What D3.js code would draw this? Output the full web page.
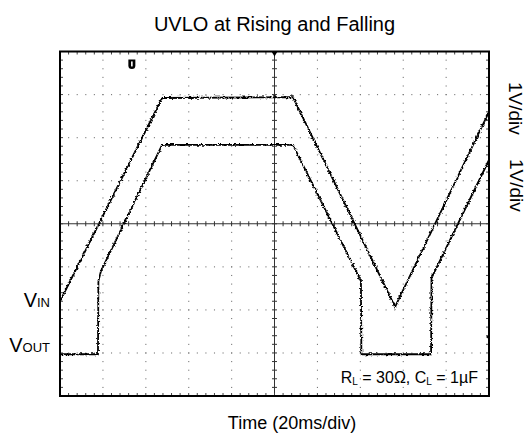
<!DOCTYPE html>
<html lang="en">
<head>
<meta charset="UTF-8">
<title>UVLO at Rising and Falling</title>
<script src="https://cdn.jsdelivr.net/npm/d3@7"></script>
<style>
  body { margin: 0; background: #fff; }
  svg text { font-family: "Liberation Sans", Arial, sans-serif; fill: #000; }
</style>
</head>
<body>
<div id="chart"></div>
<script>
// scope capture: 20 ms/div, 1 V/div on both channels
const vinTime  = [0, 47.6, 108.6, 156.2, 200];
const vinVolts = [0.0, 4.72, 4.74, -0.13, 4.40];
const voutTime  = [0, 17.7, 17.9, 19.1, 47.6, 108.6, 140.3, 140.5, 173.0, 173.2, 200];
const voutVolts = [-0.03, -0.03, 1.67, 1.90, 4.83, 4.83, 1.67, -0.03, -0.03, 1.74, 4.48];
// ground marker of each channel, in divisions from the bottom of the screen
const vinOffsetDiv = 2.2;
const voutOffsetDiv = 1.0;
const timeDomain = [0, 200];   // 10 divisions of 20 ms
const divDomain = [0, 8];      // 8 vertical divisions
const minorsPerDiv = 5;

const width = 530, height = 437;
const plot = { left: 60, right: 489, top: 51.5, bottom: 396 };

const svg = d3.select("#chart").append("svg")
    .attr("width", width)
    .attr("height", height);

const x = d3.scaleLinear().domain(timeDomain).range([plot.left, plot.right]);
const y = d3.scaleLinear().domain(divDomain).range([plot.bottom, plot.top]);

const defs = svg.append("defs");
defs.append("clipPath").attr("id", "screen")
  .append("rect")
    .attr("x", plot.left).attr("y", plot.top)
    .attr("width", plot.right - plot.left).attr("height", plot.bottom - plot.top);

// rough scope trace look
const f = defs.append("filter").attr("id", "jitter")
    .attr("filterUnits", "userSpaceOnUse")
    .attr("x", 40).attr("y", 40).attr("width", 470).attr("height", 380);
f.append("feTurbulence").attr("type", "fractalNoise")
    .attr("baseFrequency", "0.35 0.6").attr("numOctaves", 2).attr("seed", 4).attr("result", "n");
f.append("feDisplacementMap").attr("in", "SourceGraphic").attr("in2", "n")
    .attr("scale", 3.5).attr("xChannelSelector", "R").attr("yChannelSelector", "G");

const xStep = (timeDomain[1] - timeDomain[0]) / 10;
const xMajor = d3.range(timeDomain[0], timeDomain[1] + 0.01, xStep);
const xMinor = d3.range(timeDomain[0], timeDomain[1] + 0.01, xStep / minorsPerDiv);
const yMajor = d3.range(divDomain[0], divDomain[1] + 0.01, 1);
const yMinor = d3.range(divDomain[0], divDomain[1] + 0.01, 1 / minorsPerDiv);
const xMid = 100, yMid = 4;

// dotted graticule
const grid = svg.append("g").attr("fill", "#777");
xMajor.filter(t => t > 0 && t < 200 && t !== xMid).forEach(t => {
  grid.selectAll(null).data(yMinor).enter().append("rect")
    .attr("x", x(t) - 0.5).attr("y", d => y(d) - 0.5)
    .attr("width", 1.1).attr("height", 1.1);
});
yMajor.filter(d => d > 0 && d < 8 && d !== yMid).forEach(d => {
  grid.selectAll(null).data(xMinor).enter().append("rect")
    .attr("x", t => x(t) - 0.5).attr("y", y(d) - 0.5)
    .attr("width", 1.1).attr("height", 1.1);
});

// centre cross with minor ticks
const cross = svg.append("g").attr("stroke", "#333").attr("stroke-width", 1);
cross.append("line").attr("x1", x(xMid)).attr("x2", x(xMid))
    .attr("y1", plot.top).attr("y2", plot.bottom);
cross.append("line").attr("x1", plot.left).attr("x2", plot.right)
    .attr("y1", y(yMid)).attr("y2", y(yMid));
cross.selectAll(".hx").data(xMinor).enter().append("line")
    .attr("x1", t => x(t)).attr("x2", t => x(t))
    .attr("y1", y(yMid) - 2.5).attr("y2", y(yMid) + 2.5);
cross.selectAll(".hy").data(yMinor).enter().append("line")
    .attr("y1", d => y(d)).attr("y2", d => y(d))
    .attr("x1", x(xMid) - 2.5).attr("x2", x(xMid) + 2.5);

// ticks on the screen border
const edge = svg.append("g").attr("stroke", "#444").attr("stroke-width", 1);
xMinor.forEach(t => {
  edge.append("line").attr("x1", x(t)).attr("x2", x(t)).attr("y1", plot.top).attr("y2", plot.top + 3);
  edge.append("line").attr("x1", x(t)).attr("x2", x(t)).attr("y1", plot.bottom).attr("y2", plot.bottom - 3);
});
yMinor.forEach(d => {
  edge.append("line").attr("y1", y(d)).attr("y2", y(d)).attr("x1", plot.left).attr("x2", plot.left + 3);
  edge.append("line").attr("y1", y(d)).attr("y2", y(d)).attr("x1", plot.right).attr("x2", plot.right - 3);
});

// traces
const vinData = vinTime.map((t, i) => ({ t: t, v: vinVolts[i] + vinOffsetDiv }));
const voutData = voutTime.map((t, i) => ({ t: t, v: voutVolts[i] + voutOffsetDiv }));
const line = d3.line().x(d => x(d.t)).y(d => y(d.v));

const traces = svg.append("g").attr("clip-path", "url(#screen)")
  .append("g").attr("filter", "url(#jitter)");
traces.append("path").attr("d", line(voutData))
    .attr("fill", "none").attr("stroke", "#000").attr("stroke-width", 1.8);
traces.append("path").attr("d", line(vinData))
    .attr("fill", "none").attr("stroke", "#000").attr("stroke-width", 1.8);

// screen frame
svg.append("rect")
    .attr("x", plot.left).attr("y", plot.top)
    .attr("width", plot.right - plot.left).attr("height", plot.bottom - plot.top)
    .attr("fill", "none").attr("stroke", "#000").attr("stroke-width", 2);

// trigger position / level markers
svg.append("path")
    .attr("d", `M${x(xMid) - 3},${plot.top} L${x(xMid) + 3},${plot.top} L${x(xMid)},${plot.top + 5} Z`)
    .attr("fill", "#000");
svg.append("path")
    .attr("d", `M${plot.right + 1},${y(1.37) - 3} L${plot.right + 1},${y(1.37) + 3} L${plot.right - 3},${y(1.37)} Z`)
    .attr("fill", "#000");
const mk = svg.append("g").attr("transform", `translate(${x(33.5)},${y(7.7)})`);
mk.append("path").attr("d", "M-3.5,-5 H3.5 V1 A3.5,3.5 0 0 1 -3.5,1 Z").attr("fill", "#000");
mk.append("rect").attr("x", -0.8).attr("y", -3).attr("width", 1.6).attr("height", 5).attr("fill", "#fff");

// texts
svg.append("text").attr("x", 274.5).attr("y", 31)
    .attr("text-anchor", "middle").attr("font-size", 20)
    .text("UVLO at Rising and Falling");
svg.append("text").attr("x", 292).attr("y", 429)
    .attr("text-anchor", "middle").attr("font-size", 18)
    .text("Time (20ms/div)");

const vin = svg.append("text").attr("x", 50).attr("y", 307).attr("text-anchor", "end");
vin.append("tspan").attr("font-size", 20).text("V");
vin.append("tspan").attr("font-size", 13).text("IN");
const vout = svg.append("text").attr("x", 50).attr("y", 352).attr("text-anchor", "end");
vout.append("tspan").attr("font-size", 20).text("V");
vout.append("tspan").attr("font-size", 13).text("OUT");

const cond = svg.append("text").attr("x", 478).attr("y", 383)
    .attr("text-anchor", "end").attr("font-size", 16);
cond.append("tspan").text("R");
cond.append("tspan").attr("font-size", 10).attr("dy", 2).text("L");
cond.append("tspan").attr("dy", -2).text(" = 30\u03A9, C");
cond.append("tspan").attr("font-size", 10).attr("dy", 2).text("L");
cond.append("tspan").attr("dy", -2).text(" = 1\u00B5F");

svg.append("text").attr("transform", "translate(509,82) rotate(90)")
    .attr("font-size", 19).text("1V/div");
svg.append("text").attr("transform", "translate(510,159) rotate(90)")
    .attr("font-size", 19).text("1V/div");
</script>
</body>
</html>
